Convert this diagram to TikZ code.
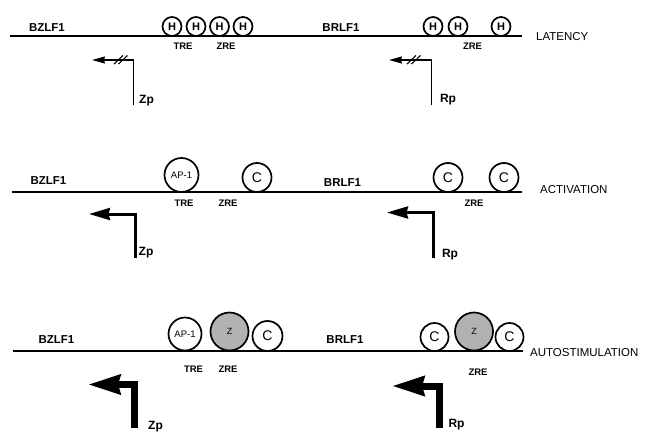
\documentclass[tikz,border=0pt]{standalone}
\usepackage{fontspec}
\setmainfont{Liberation Sans}
\usetikzlibrary{arrows.meta}

\tikzset{
  dna/.style={line width=1.7pt},
  gene/.style={font=\fontsize{11.5}{12}\selectfont\bfseries, inner sep=0pt},
  element/.style={font=\fontsize{9.5}{10}\selectfont\bfseries, inner sep=0pt},
  stage/.style={font=\fontsize{11.5}{12}\selectfont, inner sep=0pt, anchor=west},
  prom/.style={font=\fontsize{12}{13}\selectfont\bfseries, inner sep=0pt},
  site/.style={circle, draw, line width=1.7pt, fill=white, inner sep=0pt},
  hsite/.style={site, minimum size=19pt, font=\fontsize{11}{12}\selectfont\bfseries},
  csite/.style={site, font=\fontsize{14}{15}\selectfont},
  apsite/.style={site, font=\fontsize{9.5}{10}\selectfont},
  zsite/.style={site, fill=black!30, font=\fontsize{9}{10}\selectfont},
  weak/.style={line width=1.4pt, line join=miter, -{Stealth[length=13pt,width=7pt,inset=1pt]}},
  medium/.style={line width=3pt, line join=miter, -{Stealth[length=21pt,width=12pt,inset=1.5pt]}},
  strong/.style={line width=7pt, line join=miter, -{Stealth[length=32pt,width=19pt,inset=2pt]}},
  cut/.style={line width=1.1pt}
}

\begin{document}
\begin{tikzpicture}[x=1pt,y=-1pt]
\useasboundingbox (0,0) rectangle (651,434);

%% ---------------- Latency ----------------
\coordinate (l1s) at (10,36);
\coordinate (l1e) at (522,36);
\draw[dna] (l1s) -- (l1e);
\node[gene] (bz1) at (47,28) {BZLF1};
\node[gene] (br1) at (341,28) {BRLF1};
\node[hsite] (h1) at (172,26.5) {H};
\node[hsite] (h2) at (196,26.5) {H};
\node[hsite] (h3) at (219.5,26.5) {H};
\node[hsite] (h4) at (243,26.5) {H};
\node[hsite] (h5) at (433,26.5) {H};
\node[hsite] (h6) at (458,26.5) {H};
\node[hsite] (h7) at (501,26.5) {H};
\node[element] (tre1) at (183,46.5) {TRE};
\node[element] (zre1) at (226,46.5) {ZRE};
\node[element] (zre1r) at (472.5,46.5) {ZRE};
\node[stage] (lat) at (536,36.5) {LATENCY};

% promoters, blocked
\coordinate (zp1a) at (133.5,105);
\coordinate (zp1b) at (133.5,60);
\coordinate (zp1c) at (92,60);
\draw[weak] (zp1a) -- (zp1b) -- (zp1c);
\draw[cut] (114,64) -- (123,55.5);
\draw[cut] (118.5,64) -- (127.5,55.5);
\node[prom] (zp1) at (146.5,101) {Zp};

\coordinate (rp1a) at (431.5,105);
\coordinate (rp1b) at (431.5,60);
\coordinate (rp1c) at (389,60);
\draw[weak] (rp1a) -- (rp1b) -- (rp1c);
\draw[cut] (407,64) -- (416,55.5);
\draw[cut] (411.5,64) -- (420.5,55.5);
\node[prom] (rp1) at (448,100) {Rp};

%% ---------------- Activation ----------------
\coordinate (l2s) at (11.5,192);
\coordinate (l2e) at (522,192);
\draw[dna] (l2s) -- (l2e);
\node[gene] (bz2) at (48.5,181) {BZLF1};
\node[gene] (br2) at (342.5,183) {BRLF1};
\node[apsite, minimum size=34pt] (ap2) at (181.5,175) {AP-1};
\node[csite, minimum size=29pt] (c2a) at (257,177.5) {C};
\node[csite, minimum size=29pt] (c2b) at (448,177.5) {C};
\node[csite, minimum size=29pt] (c2c) at (504,177.5) {C};
\node[element] (tre2) at (184,203) {TRE};
\node[element] (zre2) at (228,203) {ZRE};
\node[element] (zre2r) at (474,203) {ZRE};
\node[stage] (act) at (540,190) {ACTIVATION};

\coordinate (zp2a) at (135.3,258);
\coordinate (zp2b) at (135.3,214);
\coordinate (zp2c) at (89,214);
\draw[medium] (zp2a) -- (zp2b) -- (zp2c);
\node[prom] (zp2) at (146,253) {Zp};

\coordinate (rp2a) at (433,258);
\coordinate (rp2b) at (433,212.5);
\coordinate (rp2c) at (387,212.5);
\draw[medium] (rp2a) -- (rp2b) -- (rp2c);
\node[prom] (rp2) at (450,255) {Rp};

%% ---------------- Autostimulation ----------------
\coordinate (l3s) at (13,351);
\coordinate (l3e) at (523,351);
\draw[dna] (l3s) -- (l3e);
\node[gene] (bz3) at (56.5,340) {BZLF1};
\node[gene] (br3) at (345,340) {BRLF1};
\node[apsite, minimum size=33pt] (ap3) at (185,334) {AP-1};
\node[zsite, minimum size=38pt] (z3) at (229.5,331.5) {Z};
\node[csite, minimum size=30pt] (c3a) at (267.5,336) {C};
\node[csite, minimum size=28pt] (c3b) at (434.5,337) {C};
\node[zsite, minimum size=38pt] (z3r) at (474,331.5) {Z};
\node[csite, minimum size=28pt] (c3c) at (509.5,337) {C};
\node[element] (tre3) at (193.5,369) {TRE};
\node[element] (zre3) at (228,369) {ZRE};
\node[element] (zre3r) at (478,372.5) {ZRE};
\node[stage] (auto) at (530,353) {AUTOSTIMULATION};

\coordinate (zp3a) at (134.5,428);
\coordinate (zp3b) at (134.5,384.5);
\coordinate (zp3c) at (88,384.5);
\draw[strong] (zp3a) -- (zp3b) -- (zp3c);
\node[prom] (zp3) at (155.5,427) {Zp};

\coordinate (rp3a) at (439,428);
\coordinate (rp3b) at (439,386);
\coordinate (rp3c) at (392,386);
\draw[strong] (rp3a) -- (rp3b) -- (rp3c);
\node[prom] (rp3) at (456.5,425) {Rp};
\end{tikzpicture}
\end{document}
